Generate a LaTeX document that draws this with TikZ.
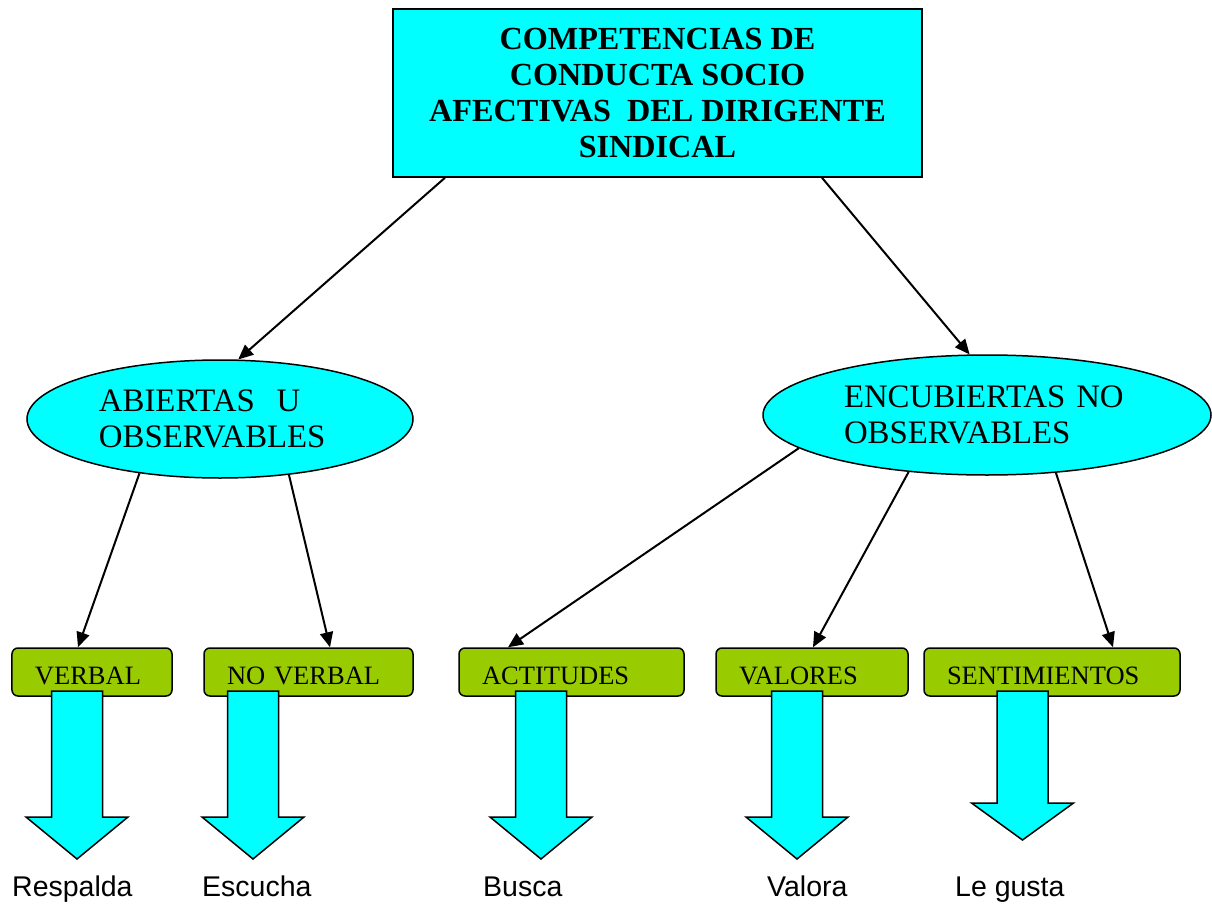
\documentclass[tikz,border=0pt]{standalone}
\usepackage{fontspec}
\setmainfont{Liberation Serif}
\newfontfamily\arialfont{Liberation Sans}
\usetikzlibrary{shapes.geometric,arrows.meta,calc}
\definecolor{cyanfill}{RGB}{0,255,255}
\definecolor{greenfill}{RGB}{153,204,0}
\newcommand{\bigdownarrow}[3]{%
  \draw[barrow] ({#1-25.5},691) -- ({#1+25.5},691) -- ({#1+25.5},#2) -- ({#1+51},#2)
    -- (#1,#3) -- ({#1-51},#2) -- ({#1-25.5},#2) -- cycle;}
\begin{document}
\begin{tikzpicture}[x=1bp,y=-1bp,
  titlebox/.style={draw=black, line width=1.5bp, fill=cyanfill, minimum width=529bp,
    minimum height=168bp, inner sep=0pt, align=center,
    font={\fontsize{32.2bp}{36bp}\selectfont\bfseries}},
  ellbox/.style={ellipse, draw=black, line width=1.5bp, fill=cyanfill, inner sep=0pt,
    align=left, font={\fontsize{32.8bp}{36bp}\selectfont}},
  gbox/.style={draw=black, line width=1.5bp, fill=greenfill, rounded corners=6bp,
    minimum height=48bp, inner xsep=23bp, inner ysep=0pt, align=left,
    text height=24bp, text depth=0bp, font={\fontsize{26.5bp}{30bp}\selectfont}},
  conn/.style={draw=black, line width=2bp, -{Triangle[length=15bp,width=13bp]}},
  barrow/.style={draw=black, line width=1.5bp, fill=cyanfill, line join=miter},
  lbl/.style={anchor=base west, inner sep=0pt, font={\arialfont\fontsize{28.5bp}{32bp}\selectfont}}
]
\useasboundingbox (0,0) rectangle (1212,905);

\node[titlebox] (top) at (657.5,93) {COMPETENCIAS DE\\CONDUCTA SOCIO\\AFECTIVAS\ \ DEL DIRIGENTE\\SINDICAL};

\node[ellbox, minimum width=386bp, minimum height=118bp, text width=242bp] (ell1) at (220,419)
  {ABIERTAS\ \ U\\OBSERVABLES};
\node[ellbox, minimum width=448bp, minimum height=120bp, text width=286bp] (ell2) at (987,415)
  {ENCUBIERTAS NO\\OBSERVABLES};

\node[gbox, text width=114bp] (verbal) at (92,672) {VERBAL};
\node[gbox, text width=163bp] (noverbal) at (308.5,672) {NO VERBAL};
\node[gbox, text width=179bp] (actitudes) at (571.5,672) {ACTITUDES};
\node[gbox, text width=146bp] (valores) at (812,672) {VALORES};
\node[gbox, text width=210bp] (sentim) at (1052,672) {SENTIMIENTOS};

\draw[conn] ([xshift=-212.5bp]top.south) -- (ell1.73.6);
\draw[conn] ([xshift=164.5bp]top.south) -- (ell2.106.6);
\draw[conn] (ell1.214.7) -- ([xshift=-14bp]verbal.north);
\draw[conn] (ell1.321.4) -- ([xshift=21.5bp]noverbal.north);
\draw[conn] (ell2.190.4) -- ([xshift=-63.5bp]actitudes.north);
\draw[conn] (ell2.216.7) -- ([xshift=1bp]valores.north);
\draw[conn] (ell2.320.4) -- ([xshift=61bp]sentim.north);

\bigdownarrow{77}{817}{859}
\bigdownarrow{253}{817}{859}
\bigdownarrow{541}{817}{859}
\bigdownarrow{797}{817}{859}
\bigdownarrow{1022.5}{803}{840}

\node[lbl] (respalda) at (12,896) {Respalda};
\node[lbl] (escucha) at (202,896) {Escucha};
\node[lbl] (busca) at (483,896) {Busca};
\node[lbl] (valora) at (767,896) {Valora};
\node[lbl] (legusta) at (955,896) {Le gusta};
\end{tikzpicture}
\end{document}
